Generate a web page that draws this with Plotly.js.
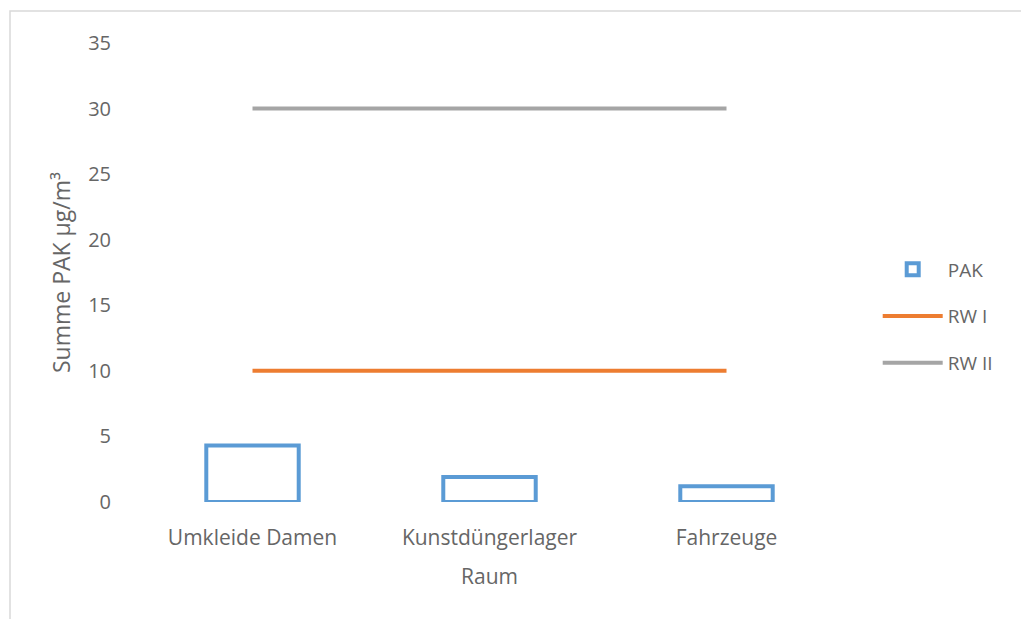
<!DOCTYPE html>
<html>
<head>
<meta charset="utf-8">
<script src="https://cdn.plot.ly/plotly-3.0.1.min.js"></script>
<style>html,body{margin:0;padding:0;background:#fff;}#chart{width:1021px;height:619px;}</style>
</head>
<body>
<div id="chart"></div>
<script>
const categories = ["Umkleide Damen", "Kunstdüngerlager", "Fahrzeuge"];
const pakValues = [4.3, 1.9, 1.2];
const rw1Values = [10, 10, 10];
const rw2Values = [30, 30, 30];
const yTickValues = [0, 5, 10, 15, 20, 25, 30, 35];

const FONT = "Open Sans, Noto Sans, sans-serif";
const GREY = "#666666";

const traces = [
  {
    type: "bar", name: "PAK", x: categories, y: pakValues,
    marker: {color: "rgba(255,255,255,0)", line: {color: "#5B9BD5", width: 4}},
    legendgroup: "a", hoverinfo: "x+y"
  },
  {
    type: "scatter", mode: "lines", name: "RW I", x: categories, y: rw1Values,
    line: {color: "#ED7D31", width: 4}, legendgroup: "b"
  },
  {
    type: "scatter", mode: "lines", name: "RW II", x: categories, y: rw2Values,
    line: {color: "#A5A5A5", width: 4}, legendgroup: "c"
  }
];

const layout = {
  width: 1021, height: 619,
  margin: {l: 134, r: 176, t: 43, b: 117, pad: 0},
  paper_bgcolor: "#fff", plot_bgcolor: "#fff",
  font: {family: FONT, color: GREY, size: 21},
  bargap: 0.61,
  showlegend: true,
  legend: {
    x: 1.046, y: 0.548, xanchor: "left", yanchor: "top",
    traceorder: "grouped", tracegroupgap: 19,
    font: {family: FONT, color: GREY, size: 19},
    itemwidth: 60, bgcolor: "rgba(0,0,0,0)"
  },
  xaxis: {
    type: "category", range: [-0.5, 2.5],
    showgrid: false, zeroline: false, showline: false, ticks: "",
    ticklabelstandoff: 21,
    tickfont: {family: FONT, color: GREY, size: 21},
    title: {text: "Raum", font: {family: FONT, color: GREY, size: 21}, standoff: 19}
  },
  yaxis: {
    range: [0, 35], tickvals: yTickValues,
    showgrid: false, zeroline: false, showline: false, ticks: "",
    ticklabelstandoff: 22,
    tickfont: {family: FONT, color: GREY, size: 20},
    title: {text: "Summe PAK µg/m³", font: {family: FONT, color: GREY, size: 23}, standoff: 11}
  },
  shapes: [
    {type: "rect", xref: "paper", yref: "paper",
     x0: (10 - 134) / 711, x1: (1030 - 134) / 711,
     y0: (502 - 630) / 459, y1: (502 - 11) / 459,
     line: {color: "#D9D9D9", width: 1.5}, fillcolor: "rgba(0,0,0,0)", layer: "below"}
  ]
};

Plotly.newPlot("chart", traces, layout, {displayModeBar: false, staticPlot: true});
</script>
</body>
</html>
